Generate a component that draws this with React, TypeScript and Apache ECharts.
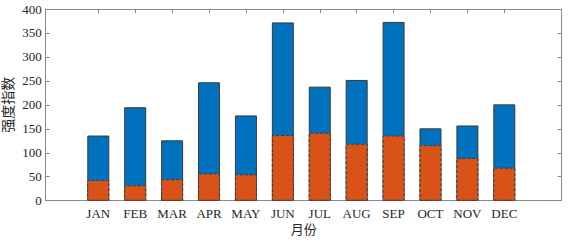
import React, { useEffect, useRef } from "react";
import * as echarts from "echarts";

const months = ["JAN", "FEB", "MAR", "APR", "MAY", "JUN", "JUL", "AUG", "SEP", "OCT", "NOV", "DEC"];
const totalValues = [136, 195, 126, 247, 178, 372, 238, 252, 373, 151, 157, 201];
const lowerValues = [43, 32, 45, 57, 55, 137, 142, 119, 136, 116, 89, 69];
const yTicks = [0, 50, 100, 150, 200, 250, 300, 350, 400];
const xName = "月份";
const yName = "强度指数";

const FONT = "Liberation Serif, Noto Sans CJK SC, serif";
const AXIS = "#8a8a8a";

export default function App() {
  const ref = useRef<HTMLDivElement>(null);
  useEffect(() => {
    if (!ref.current) return;
    const chart = echarts.init(ref.current, null, { renderer: "svg" });
    const positions = months.map((_, i) => i + 1);
    const xMin = -0.425;
    const xMax = 13.555;
    const labelFmt = (v: number) => {
      const i = Math.round(v) - 1;
      return months[i] ?? "";
    };
    chart.setOption({
      animation: false,
      textStyle: { fontFamily: FONT },
      grid: { left: 45.7, right: 7.3, top: 9, bottom: 40.3, containLabel: false, outerBoundsMode: "none" },
      xAxis: [
        {
          type: "value",
          min: xMin,
          max: xMax,
          name: xName,
          nameLocation: "middle",
          nameGap: 22,
          nameMoveOverlap: false,
          nameTextStyle: { fontFamily: FONT, fontSize: 13, color: "#262626" },
          axisLine: { show: true, lineStyle: { color: AXIS, width: 1 } },
          axisTick: { show: true, inside: true, length: 4, customValues: positions, lineStyle: { color: AXIS } },
          axisLabel: { customValues: positions, formatter: labelFmt, fontFamily: FONT, fontSize: 13, color: "#262626", margin: 6 },
          splitLine: { show: false },
        },
        {
          type: "value",
          position: "top",
          min: xMin,
          max: xMax,
          axisLine: { show: true, onZero: false, lineStyle: { color: AXIS, width: 1 } },
          axisTick: { show: true, inside: true, length: 4, customValues: positions, lineStyle: { color: AXIS } },
          axisLabel: { show: false },
          splitLine: { show: false },
        },
      ],
      yAxis: [
        {
          type: "value",
          min: yTicks[0],
          max: yTicks[yTicks.length - 1],
          interval: yTicks[1] - yTicks[0],
          name: yName,
          nameLocation: "middle",
          nameGap: 30,
          nameMoveOverlap: false,
          nameTextStyle: { fontFamily: FONT, fontSize: 14, color: "#262626" },
          axisLine: { show: true, onZero: false, lineStyle: { color: AXIS, width: 1 } },
          axisTick: { show: true, inside: true, length: 4, lineStyle: { color: AXIS } },
          axisLabel: { fontFamily: FONT, fontSize: 13, color: "#262626", margin: 4 },
          splitLine: { show: false },
        },
        {
          type: "value",
          position: "right",
          min: yTicks[0],
          max: yTicks[yTicks.length - 1],
          interval: yTicks[1] - yTicks[0],
          axisLine: { show: true, onZero: false, lineStyle: { color: AXIS, width: 1 } },
          axisTick: { show: true, inside: true, length: 4, lineStyle: { color: AXIS } },
          axisLabel: { show: false },
          splitLine: { show: false },
        },
      ],
      series: [
        {
          type: "bar",
          name: "total",
          xAxisIndex: 0,
          yAxisIndex: 0,
          barWidth: 22,
          barGap: "-100%",
          data: totalValues.map((v, i) => [positions[i], v]),
          itemStyle: { color: "#0072BD", borderColor: "#3a3a3a", borderWidth: 1 },
        },
        {
          type: "bar",
          name: "lower",
          xAxisIndex: 0,
          yAxisIndex: 0,
          barWidth: 22,
          barGap: "-100%",
          data: lowerValues.map((v, i) => [positions[i], v]),
          itemStyle: { color: "#D95319", borderColor: "#3a3a3a", borderWidth: 1, borderType: [3, 2] },
        },
        {
          type: "line",
          name: "frame",
          xAxisIndex: 1,
          yAxisIndex: 1,
          data: [],
          silent: true,
        },
      ],
    });
    return () => chart.dispose();
  }, []);
  return <div ref={ref} style={{ width: 569, height: 241, position: "absolute", left: 0, top: 0 }} />;
}
